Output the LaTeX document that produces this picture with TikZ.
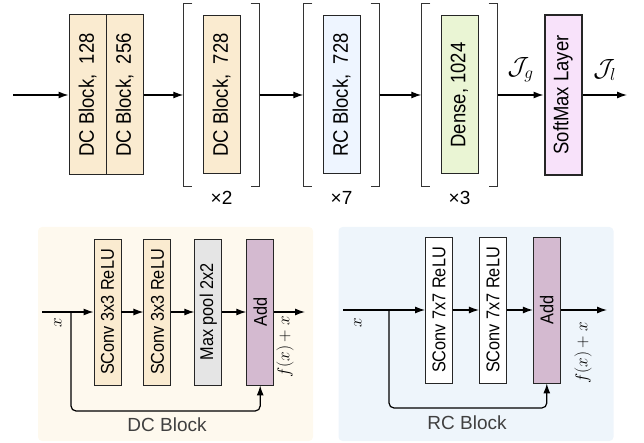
\documentclass[tikz,border=0pt]{standalone}
\usepackage{fontspec}
\setmainfont{Liberation Sans}
\newfontfamily\boxfont[FakeStretch=0.88]{Liberation Sans}
\usepackage{graphicx}
\usepackage{tikz}
\usetikzlibrary{arrows.meta, positioning, fit}
\definecolor{dcfill}{RGB}{250, 235, 208}
\definecolor{rcfill}{RGB}{238, 245, 255}
\definecolor{densefill}{RGB}{234, 245, 212}
\definecolor{softfill}{RGB}{248, 226, 250}
\definecolor{poolfill}{RGB}{229, 229, 229}
\definecolor{addfill}{RGB}{212, 186, 208}
\definecolor{dcback}{RGB}{254, 249, 238}
\definecolor{rcback}{RGB}{238, 245, 251}
\newcommand{\vlabel}[1]{\rotatebox{90}{#1}}
\tikzset{
  block/.style={
    rectangle, inner sep=0pt,
    minimum width=37pt, minimum height=158pt,
    font=\boxfont\fontsize{21}{23}\selectfont,
    draw=black!85, line width=1pt
  },
  dcnode/.style={block, fill=dcfill},
  rcnode/.style={block, fill=rcfill},
  densenode/.style={block, fill=densefill},
  softnode/.style={block, fill=softfill, line width=2pt},
  layer/.style={
    rectangle, inner sep=0pt,
    minimum width=27pt, minimum height=146pt,
    font=\boxfont\fontsize{18.5}{20}\selectfont,
    draw=black!85, line width=0.9pt
  },
  convnode/.style={layer, fill=dcfill},
  rconvnode/.style={layer, fill=white},
  poolnode/.style={layer, fill=poolfill},
  addnode/.style={layer, fill=addfill},
  panel/.style={
    rectangle, rounded corners=4pt, draw=none,
    minimum width=275pt, minimum height=214pt
  },
  bracket/.style={draw=black!80, line width=1pt},
  replabel/.style={font=\fontsize{19}{20}\selectfont},
  panellabel/.style={font=\fontsize{19}{20}\selectfont, text=black!75},
  mathlabel/.style={font=\fontsize{19}{20}\selectfont},
  outlabel/.style={font=\fontsize{25}{26}\selectfont},
  myarrow/.style={line width=1.2pt, -{Latex[length=10pt, width=7pt]}},
  skiparrow/.style={myarrow, rounded corners=5pt}
}

\begin{document}
\begin{tikzpicture}[x=1pt, y=-1pt]
  \useasboundingbox (0,0) rectangle (644,443);

  %% --- Main network ---
  \node[dcnode, minimum height=160pt] (dc1) at (87.5,95)
    {\vlabel{DC Block,\ \ 128}};
  \node[dcnode, minimum height=160pt, right=-1pt of dc1] (dc2)
    {\vlabel{DC Block,\ \ 256}};
  \node[dcnode, right=59pt of dc2] (dc3) {\vlabel{DC Block,\ \ 728}};
  \node[rcnode, right=82pt of dc3] (rc) {\vlabel{RC Block,\ \ 728}};
  \node[densenode, right=80pt of rc] (dense) {\vlabel{Dense,\ 1024}};
  \node[softnode, minimum height=160pt, right=65pt of dense] (soft)
    {\vlabel{SoftMax Layer}};

  %% --- Repeat brackets ---
  \node[fit=(dc3), inner xsep=19pt, inner ysep=12pt] (br1) {};
  \node[fit=(rc), inner xsep=19pt, inner ysep=12pt] (br2) {};
  \node[fit=(dense), inner xsep=19pt, inner ysep=12pt] (br3) {};

  \foreach \b/\k in {br1/2, br2/7, br3/3} {
    \draw[bracket] ([xshift=9pt]\b.north west) -- (\b.north west)
      -- (\b.south west) -- ([xshift=9pt]\b.south west);
    \draw[bracket] ([xshift=-9pt]\b.north east) -- (\b.north east)
      -- (\b.south east) -- ([xshift=-9pt]\b.south east);
    \node[replabel, below=1pt of \b] (rep\k) {×\k};
  }

  %% --- Main arrows ---
  \coordinate (in) at (13,95);
  \coordinate (out) at (627,95);
  \draw[myarrow] (in) -- (dc1);
  \draw[myarrow] (dc2) -- (br1);
  \draw[myarrow] (br1) -- (br2);
  \draw[myarrow] (br2) -- (br3);
  \draw[myarrow] (br3) -- node[outlabel, midway, yshift=25pt] {$\mathcal{J}_g$} (soft);
  \draw[myarrow] (soft) -- node[outlabel, midway, yshift=25pt] {$\mathcal{J}_l$} (out);

  %% --- DC block detail ---
  \node[panel, fill=dcback] (dcpanel) at (175.5,334) {};
  \node[convnode] (dcconv1) at (107.5,312) {\vlabel{SConv 3x3 ReLU}};
  \node[convnode, right=22pt of dcconv1] (dcconv2) {\vlabel{SConv 3x3 ReLU}};
  \node[poolnode, right=23pt of dcconv2] (dcpool) {\vlabel{Max pool 2x2}};
  \node[addnode, right=24pt of dcpool] (dcadd) {\vlabel{Add}};

  \coordinate (dcin) at (42,312);
  \coordinate (dcsplit) at (71,312);
  \coordinate (dcloop) at (71,411);
  \coordinate (dcout) at (305,312);

  \draw[myarrow] (dcin) -- (dcconv1);
  \draw[myarrow] (dcconv1) -- (dcconv2);
  \draw[myarrow] (dcconv2) -- (dcpool);
  \draw[myarrow] (dcpool) -- (dcadd);
  \draw[myarrow] (dcadd) -- (dcout);
  \draw[skiparrow] (dcsplit) -- (dcloop) -| (dcadd.south);

  \node[mathlabel, rotate=90] (dcx) at (58,323) {$x$};
  \node[mathlabel, rotate=90] (dcfx) at (285,347) {$f(x)+x$};
  \node[panellabel] (dctitle) at (167,425) {DC Block};

  %% --- RC block detail ---
  \node[panel, fill=rcback] (rcpanel) at (476,334) {};
  \node[rconvnode] (rcconv1) at (439,310) {\vlabel{SConv 7x7 ReLU}};
  \node[rconvnode, right=26pt of rcconv1] (rcconv2) {\vlabel{SConv 7x7 ReLU}};
  \node[addnode, right=26pt of rcconv2] (rcadd) {\vlabel{Add}};

  \coordinate (rcin) at (343,310);
  \coordinate (rcsplit) at (389,310);
  \coordinate (rcloop) at (389,408);
  \coordinate (rcout) at (607,310);

  \draw[myarrow] (rcin) -- (rcconv1);
  \draw[myarrow] (rcconv1) -- (rcconv2);
  \draw[myarrow] (rcconv2) -- (rcadd);
  \draw[myarrow] (rcadd) -- (rcout);
  \draw[skiparrow] (rcsplit) -- (rcloop) -| (rcadd.south);

  \node[mathlabel, rotate=90] (rcx) at (358,323) {$x$};
  \node[mathlabel, rotate=90] (rcfx) at (583,353) {$f(x)+x$};
  \node[panellabel] (rctitle) at (467,423) {RC Block};

\end{tikzpicture}
\end{document}
